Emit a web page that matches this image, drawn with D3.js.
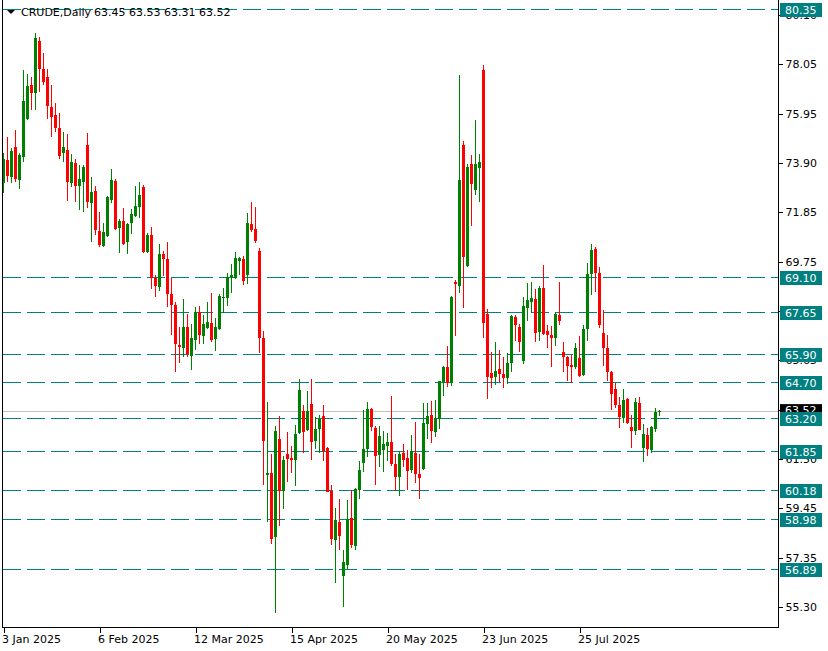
<!DOCTYPE html>
<html><head><meta charset="utf-8">
<script src="https://cdn.jsdelivr.net/npm/d3@7"></script>
<style>
html,body{margin:0;padding:0;background:#fff;}
svg{display:block;}
text{font-family:"DejaVu Sans",sans-serif;}
</style></head><body>
<svg id="c" width="828" height="651"></svg>
<script>
const symbolLabel = "CRUDE,Daily";
const lastOHLC = [63.45, 63.53, 63.31, 63.52];

const opens = [73.05,74.01,73.30,74.56,73.18,74.14,75.73,77.15,76.82,78.99,
77.82,77.49,76.23,75.90,75.35,74.31,74.43,73.05,73.89,72.92,
73.09,74.64,72.21,72.71,71.04,70.41,70.83,72.34,73.13,71.17,
71.46,70.58,71.38,71.67,72.05,72.90,70.14,70.87,69.07,68.70,
70.08,69.87,68.40,67.94,66.27,66.14,67.02,65.81,66.48,67.65,
66.65,66.98,67.19,66.52,66.94,68.24,68.24,69.07,69.07,69.78,
69.87,69.20,71.33,71.12,70.20,66.56,60.83,60.91,58.23,62.33,
60.16,61.71,61.54,61.45,62.58,63.51,62.71,63.80,62.25,62.75,
63.30,61.96,60.16,58.11,58.86,56.60,57.06,59.03,57.85,60.20,
61.33,61.91,63.59,62.79,61.66,61.87,62.04,62.21,61.29,60.74,
61.75,61.54,61.04,61.75,60.87,61.08,62.96,63.34,62.63,63.17,
64.72,65.35,64.68,68.91,68.74,74.64,69.58,73.85,72.76,73.68,
77.78,67.57,65.10,64.93,65.26,65.05,64.89,65.51,67.44,67.02,
65.60,67.82,68.07,68.19,66.81,68.65,66.85,66.69,66.56,67.52,
65.98,65.77,65.43,65.35,65.72,65.01,66.94,69.24,70.29,69.28,
66.77,66.14,65.14,64.43,63.76,63.21,64.01,62.84,62.67,63.84,
61.96,62.50,61.87,62.75,63.45];
const highs = [74.31,74.98,74.51,75.27,74.31,77.78,77.61,77.49,79.33,79.16,
78.49,77.82,77.15,76.40,75.98,75.18,75.10,74.26,74.05,73.80,
73.80,75.14,73.30,72.92,71.84,71.38,72.51,73.64,73.22,71.54,
72.00,71.38,71.96,72.92,73.09,72.95,70.96,71.21,69.20,70.50,
70.20,70.58,69.07,68.07,67.02,68.19,67.57,67.15,67.86,67.90,
67.52,68.07,68.45,67.40,68.40,68.65,69.28,69.66,70.16,69.95,
69.99,71.79,72.25,72.05,70.33,66.85,63.88,61.71,62.88,63.30,
61.62,62.63,62.04,62.92,64.85,63.76,64.34,64.85,63.25,63.34,
63.76,62.00,60.41,59.45,59.82,57.69,59.78,60.20,60.28,61.41,
63.55,63.88,63.63,62.88,62.88,62.67,62.58,64.13,61.71,61.79,
62.12,61.87,62.50,63.04,61.71,63.84,63.84,63.92,63.97,64.78,
65.39,66.23,68.32,68.99,77.57,74.81,73.85,74.22,75.69,74.26,
77.99,67.78,65.98,66.39,66.06,65.77,65.93,67.52,67.52,67.15,
68.28,68.86,68.91,68.61,68.74,69.62,67.11,67.06,67.65,68.91,
66.39,65.81,65.85,66.35,66.65,67.11,69.70,70.50,70.37,69.53,
67.73,66.69,65.16,64.68,64.09,64.43,64.05,63.34,64.05,64.09,
62.96,62.79,62.86,63.63,63.53];
const lows = [72.63,73.09,73.05,73.09,72.80,73.93,75.70,76.11,76.11,76.86,
77.15,75.73,74.98,75.18,74.05,73.93,72.30,72.88,72.25,71.92,
71.84,72.00,70.58,70.87,70.37,70.37,70.79,72.21,71.08,70.12,
70.45,70.08,70.92,71.63,71.59,70.12,70.10,68.61,68.28,68.53,
69.16,67.86,66.69,65.14,65.51,65.77,65.77,65.22,66.06,66.31,
66.31,66.94,66.39,66.02,66.90,67.61,67.90,68.45,69.03,69.20,
68.78,68.82,71.00,70.54,65.93,60.41,58.86,57.94,55.05,58.69,
59.40,60.53,60.91,60.37,62.55,61.75,62.67,61.45,61.91,61.75,
61.41,60.10,57.90,56.31,57.69,55.30,56.89,57.77,57.69,59.82,
60.95,61.58,62.67,60.41,61.16,60.95,61.41,61.20,60.16,59.95,
61.16,60.20,60.91,60.49,59.82,61.04,62.33,62.17,62.42,62.75,
64.13,64.51,64.55,66.65,68.45,67.82,69.53,71.25,72.55,72.25,
66.56,64.01,64.47,64.59,64.72,64.47,64.64,65.14,66.44,65.98,
65.47,67.27,67.65,66.39,66.44,66.70,66.14,65.35,66.23,67.11,
65.14,64.76,64.68,65.26,64.93,64.99,66.44,68.36,68.49,66.98,
65.39,64.76,63.55,63.63,62.79,63.00,62.96,61.96,62.50,62.69,
61.37,61.62,61.75,62.63,63.31];
const closes = [74.05,73.34,74.39,73.22,74.22,76.48,77.11,76.82,79.12,77.82,
77.28,76.27,75.81,75.35,74.18,74.56,73.09,73.93,72.92,73.22,
73.72,72.25,72.67,71.08,70.45,71.00,72.46,73.18,71.12,71.46,
70.50,71.33,71.75,72.09,72.55,70.16,70.87,69.07,68.74,70.08,
69.87,68.40,67.94,66.31,66.18,67.02,65.89,66.56,67.65,66.69,
67.15,67.23,66.48,67.02,68.32,68.28,69.11,69.20,69.91,69.91,
68.95,71.38,71.08,70.62,66.56,62.25,60.91,58.15,62.67,60.16,
61.45,61.50,61.45,62.54,64.38,62.63,63.51,62.21,62.75,63.17,
61.83,60.12,58.15,58.94,58.27,57.18,58.98,57.90,60.24,61.04,
61.91,63.59,62.84,61.62,62.46,62.12,62.21,61.29,60.74,61.71,
61.45,60.99,61.83,60.87,60.70,63.00,63.30,62.67,63.21,64.76,
65.35,64.68,68.28,68.82,73.18,69.95,73.72,73.01,73.85,73.93,
67.19,64.93,64.89,65.18,65.05,64.89,65.51,67.48,67.11,66.39,
67.90,68.15,68.24,66.77,68.65,66.73,66.69,66.56,67.57,67.27,
65.77,65.39,65.35,66.14,64.97,66.94,69.24,70.25,69.28,67.11,
66.14,65.14,64.22,63.76,63.25,63.97,63.00,62.67,63.88,62.71,
62.54,61.91,62.84,63.46,63.52];

const xTickIndex = [0, 24, 48, 72, 96, 120, 144];
const xTickLabels = ["3 Jan 2025","6 Feb 2025","12 Mar 2025","15 Apr 2025","20 May 2025","23 Jun 2025","25 Jul 2025"];
const yTicks = [55.30,57.35,59.45,61.50,63.55,65.65,67.70,69.75,71.85,73.90,75.95,78.05,80.10];
const levels = [80.35,69.10,67.65,65.90,64.70,63.20,61.85,60.18,58.98,56.89];
const currentPrice = 63.52;

const W = 828, H = 651;
const plotLeft = 2, plotRight = 778, plotBottom = 627;
const UP = "#008000", DOWN = "#ff0000", TEAL = "#008080";

const svg = d3.select("#c");
const x = d3.scaleLinear().domain([0, 1]).range([3, 7]);
const y = d3.scaleLinear().domain([55.30, 78.05]).range([607, 63.5]);
const fmt = d3.format(".2f");

// horizontal levels (behind candles)
const gLines = svg.append("g").attr("shape-rendering", "crispEdges");
gLines.selectAll("line.lvl").data(levels).join("line")
  .attr("class","lvl")
  .attr("x1", plotLeft + 1).attr("x2", plotRight)
  .attr("y1", d => Math.round(y(d)) + 0.5).attr("y2", d => Math.round(y(d)) + 0.5)
  .attr("stroke", TEAL).attr("stroke-width", 1).attr("stroke-dasharray", "18,6");
gLines.append("line")
  .attr("x1", plotLeft + 1).attr("x2", plotRight)
  .attr("y1", Math.round(y(currentPrice)) + 0.5).attr("y2", Math.round(y(currentPrice)) + 0.5)
  .attr("stroke", "#c0c0c0").attr("stroke-width", 1);

// candles
const idx = d3.range(opens.length);
const gC = svg.append("g").attr("shape-rendering", "crispEdges");
const col = i => closes[i] >= opens[i] ? UP : DOWN;
gC.selectAll("line.wick").data(idx).join("line")
  .attr("class","wick")
  .attr("x1", i => x(i) + 0.5).attr("x2", i => x(i) + 0.5)
  .attr("y1", i => y(highs[i])).attr("y2", i => y(lows[i]))
  .attr("stroke", col).attr("stroke-width", 1);
gC.selectAll("rect.body").data(idx).join("rect")
  .attr("class","body")
  .attr("x", i => x(i) - 1).attr("width", 3)
  .attr("y", i => Math.min(y(opens[i]), y(closes[i])))
  .attr("height", i => Math.max(1, Math.abs(y(opens[i]) - y(closes[i]))))
  .attr("fill", col);

// frame
svg.append("path")
  .attr("d", `M${plotLeft+0.5},0V${plotBottom+0.5}H${plotRight+0.5}V0`)
  .attr("fill","none").attr("stroke","#000").attr("stroke-width",1)
  .attr("shape-rendering","crispEdges");

// right price axis
const gy = svg.append("g").attr("transform", `translate(${plotRight+0.5},0)`)
  .call(d3.axisRight(y).tickValues(yTicks).tickSize(4).tickPadding(3).tickFormat(fmt));
gy.select(".domain").remove();
gy.selectAll(".tick line").attr("stroke","#000").attr("shape-rendering","crispEdges");
gy.selectAll(".tick text").attr("font-family","DejaVu Sans, sans-serif").attr("font-size", 11).attr("fill","#000");

// bottom time axis
const gx = svg.append("g").attr("transform", `translate(0.5,${plotBottom+0.5})`)
  .call(d3.axisBottom(x).tickValues(xTickIndex).tickSize(5).tickPadding(3)
    .tickFormat((d, k) => xTickLabels[k]));
gx.select(".domain").remove();
gx.selectAll(".tick line").attr("stroke","#000").attr("shape-rendering","crispEdges");
gx.selectAll(".tick text").attr("text-anchor","start").attr("x",-2)
  .attr("font-family","DejaVu Sans, sans-serif").attr("font-size", 11).attr("fill","#000");

// current price label (black)
const gLab = svg.append("g");
gLab.append("rect").attr("x", plotRight + 2).attr("y", y(currentPrice) - 6.5)
  .attr("width", 42).attr("height", 14).attr("fill", "#000");
gLab.append("text").attr("x", plotRight + 7).attr("y", y(currentPrice)).attr("dy","0.35em")
  .attr("font-size", 11).attr("fill", "#fff").text(fmt(currentPrice));

// level labels (teal)
const lab = gLab.selectAll("g.lvlLab").data(levels).join("g").attr("class","lvlLab");
lab.append("rect").attr("x", plotRight + 2).attr("y", d => Math.round(y(d)) - 6)
  .attr("width", 42).attr("height", 14).attr("fill", TEAL);
lab.append("text").attr("x", plotRight + 7).attr("y", d => Math.round(y(d)) + 1).attr("dy","0.35em")
  .attr("font-size", 11).attr("fill", "#ffffff").text(d => fmt(d));

// header
svg.append("path").attr("d","M7,10L15,10L11,14Z").attr("fill","#000");
svg.append("text").attr("x", 21).attr("y", 16).attr("font-size", 11).attr("fill","#000").text(symbolLabel);
svg.append("text").attr("x", 94).attr("y", 16).attr("font-size", 11).attr("fill","#000")
  .attr("xml:space","preserve").text(lastOHLC.map(fmt).join(" "));
</script>
</body></html>
